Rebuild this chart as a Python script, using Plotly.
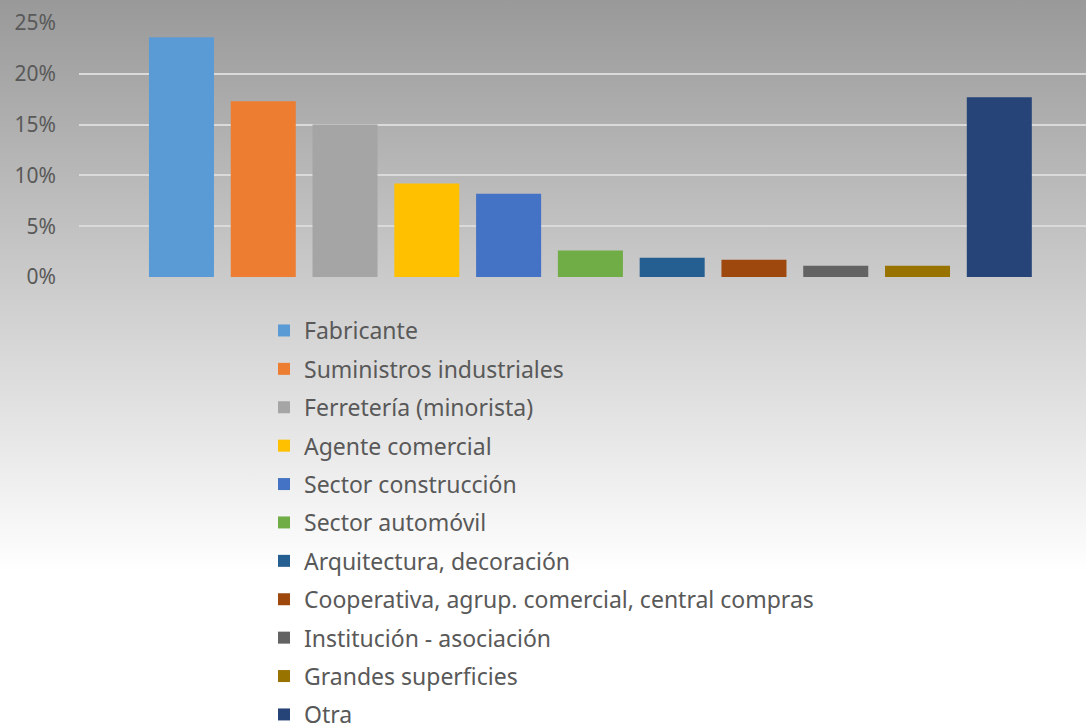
import base64
import plotly.graph_objects as go

categories = [
    "Fabricante",
    "Suministros industriales",
    "Ferretería (minorista)",
    "Agente comercial",
    "Sector construcción",
    "Sector automóvil",
    "Arquitectura, decoración",
    "Cooperativa, agrup. comercial, central compras",
    "Institución - asociación",
    "Grandes superficies",
    "Otra",
]
values = [23.6, 17.3, 15.0, 9.2, 8.2, 2.6, 1.9, 1.7, 1.1, 1.1, 17.7]
colors = [
    "#5B9BD5", "#ED7D31", "#A5A5A5", "#FFC000", "#4472C4", "#70AD47",
    "#255E91", "#9E480E", "#636363", "#997300", "#264478",
]
tick_vals = [0, 5, 10, 15, 20, 25]
tick_text = ["0%", "5%", "10%", "15%", "20%", "25%"]

W, H = 1086, 725
L, T, B = 79, 23, 448
plot_w = W - L
plot_h = H - T - B

svg = (
    f'<svg xmlns="http://www.w3.org/2000/svg" width="{W}" height="{H}" '
    f'viewBox="0 0 {W} {H}" preserveAspectRatio="none">'
    '<defs><linearGradient id="g" x1="0" y1="0" x2="0" y2="1">'
    '<stop offset="0" stop-color="#999999"/>'
    '<stop offset="0.79" stop-color="#ffffff"/>'
    '<stop offset="1" stop-color="#ffffff"/>'
    '</linearGradient></defs>'
    f'<rect x="0" y="0" width="{W}" height="{H}" fill="url(#g)"/></svg>'
)
src = "data:image/svg+xml;base64," + base64.b64encode(svg.encode()).decode()

fig = go.Figure()
for i, (c, v, col) in enumerate(zip(categories, values, colors)):
    fig.add_trace(go.Bar(
        x=[c], y=[v], name=c, marker=dict(color=col, line=dict(width=0)),
        width=0.795, legendgroup=f"g{i}",
    ))

fig.update_layout(
    width=W, height=H,
    margin=dict(l=L, r=0, t=T, b=B, pad=0, autoexpand=False),
    paper_bgcolor="white",
    plot_bgcolor="rgba(0,0,0,0)",
    barmode="overlay",
    font=dict(family="Noto Sans", size=21, color="#595959"),
    showlegend=True,
    legend=dict(
        xref="container", yref="container",
        x=264 / W, y=1 - 309 / H, xanchor="left", yanchor="top",
        orientation="v", bgcolor="rgba(0,0,0,0)",
        font=dict(family="Noto Sans", size=23, color="#595959"),
        tracegroupgap=5.5, itemwidth=30, maxheight=600,
    ),
    images=[dict(
        source=src, xref="paper", yref="paper",
        x=-L / plot_w, y=1 + T / plot_h,
        sizex=W / plot_w, sizey=H / plot_h,
        xanchor="left", yanchor="top", sizing="stretch", layer="below",
    )],
    xaxis=dict(
        type="category", categoryorder="array", categoryarray=categories,
        range=[-1.253, 11.06], showticklabels=False, showgrid=False,
        zeroline=False, showline=False, ticks="",
    ),
    yaxis=dict(
        range=[0, 25], tickvals=tick_vals, ticktext=tick_text,
        showgrid=True, gridcolor="#dadada", gridwidth=1.5,
        zeroline=False, showline=False, ticks="",
        ticklabelstandoff=22,
        tickfont=dict(family="Noto Sans", size=21, color="#595959"),
    ),
)

fig.write_html(
    "out.html",
    config={"displayModeBar": False},
    post_script="document.body.style.margin='0';document.body.style.overflow='hidden';",
)
